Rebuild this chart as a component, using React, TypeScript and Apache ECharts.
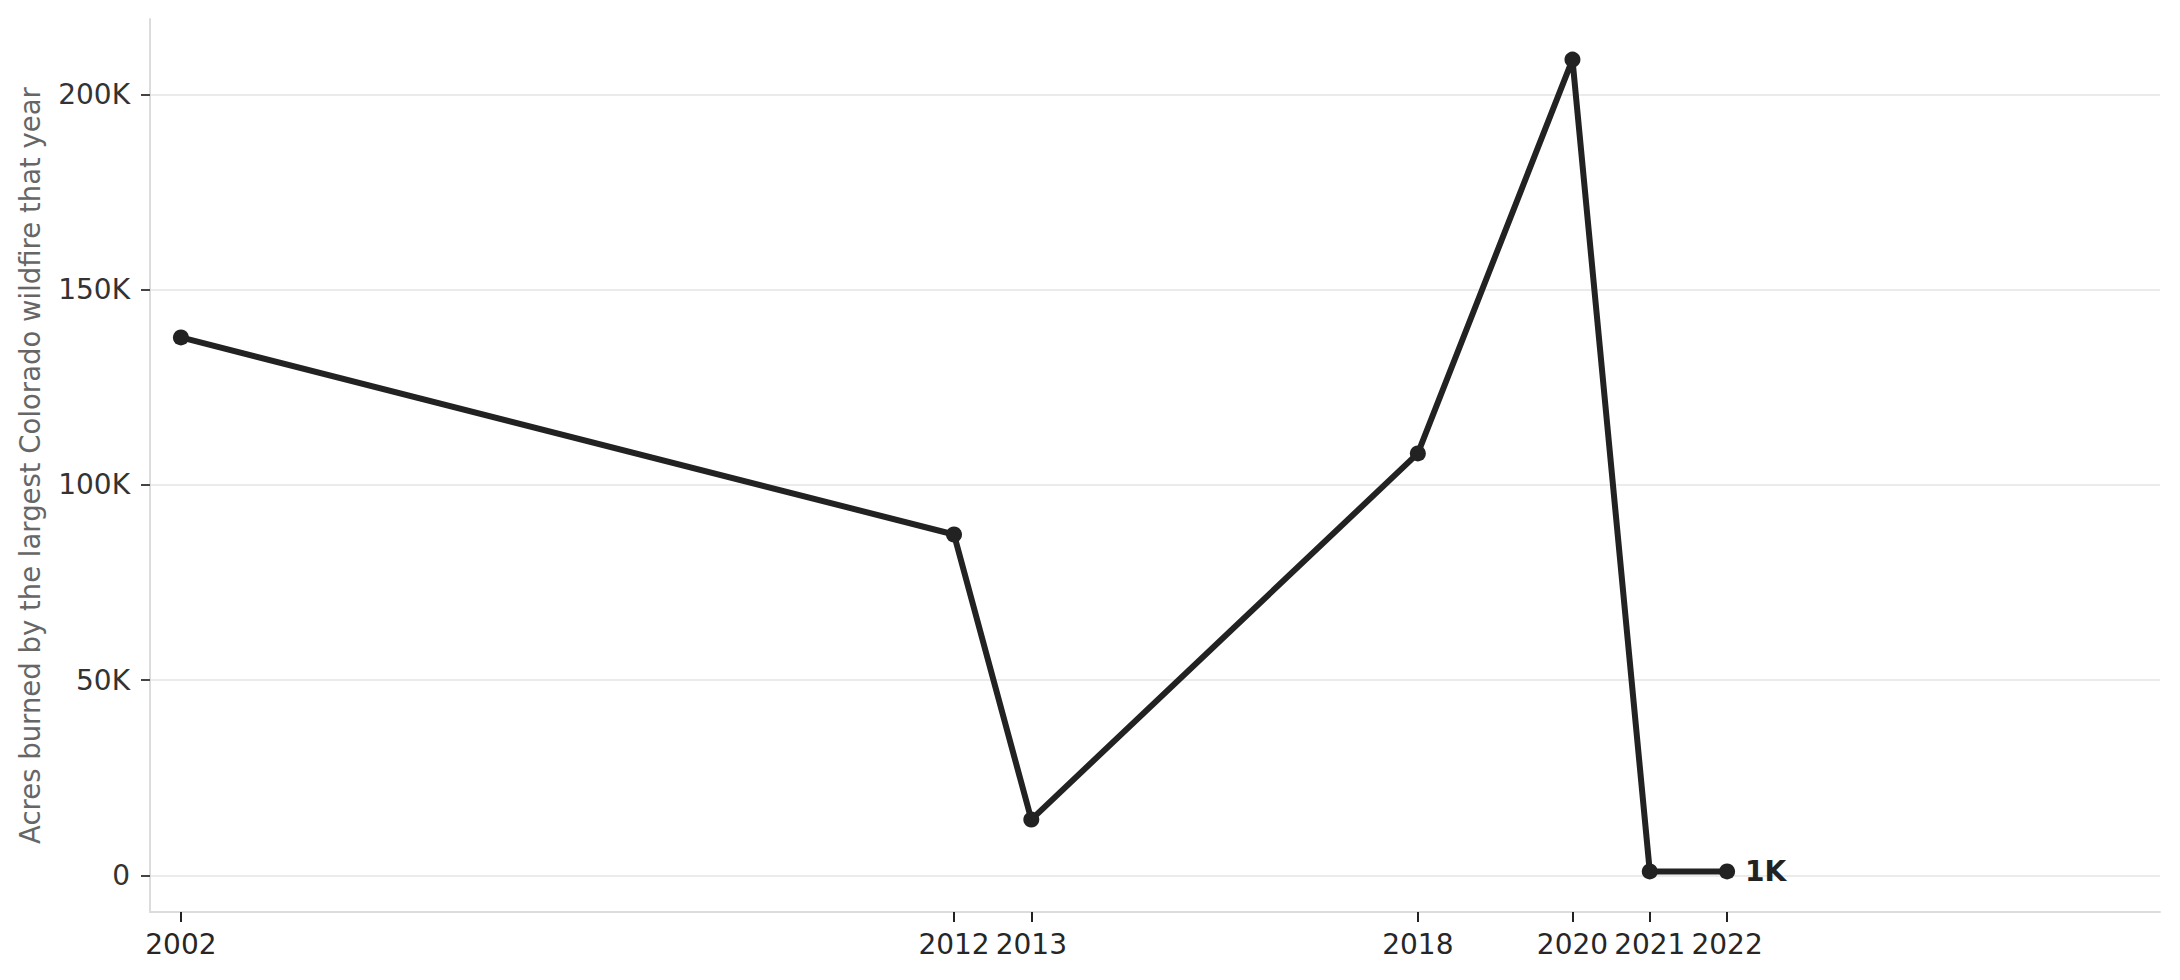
import { useEffect, useRef } from "react";
import * as echarts from "echarts";

const years = [2002, 2012, 2013, 2018, 2020, 2021, 2022];
const acres = [137760, 87284, 14280, 108045, 208913, 1000, 1000];
const yTicks = [0, 50000, 100000, 150000, 200000];
const lastLabel = "1K";
const yTitle = "Acres burned by the largest Colorado wildfire that year";

const FONT = "DejaVu Sans";

function formatAcres(v: number): string {
  if (v === 0) {
    return "0";
  }
  return `${Math.round(v / 1000)}K`;
}

export default function App() {
  const ref = useRef<HTMLDivElement | null>(null);

  useEffect(() => {
    const el = ref.current;
    if (!el) {
      return;
    }
    const chart = echarts.init(el, null, { renderer: "svg" });

    const points = years.map((yr, i) => {
      const item: any = { value: [yr, acres[i]] };
      if (i === years.length - 1) {
        item.label = {
          show: true,
          position: "right",
          distance: 10,
          formatter: lastLabel,
          fontFamily: FONT,
          fontWeight: "bold",
          fontSize: 28,
          color: "#222",
        };
      }
      return item;
    });

    chart.setOption({
      animation: false,
      backgroundColor: "#fff",
      grid: { left: 150, right: 20, top: 19, bottom: 68 },
      xAxis: {
        type: "value",
        min: 2001.6,
        max: 2027.6,
        axisLine: {
          show: true,
          onZero: false,
          lineStyle: { color: "#dcdcdc", width: 2 },
        },
        axisTick: {
          show: true,
          customValues: years,
          length: 10,
          lineStyle: { color: "#222", width: 2 },
        },
        axisLabel: {
          customValues: years,
          formatter: (v: number) => String(v),
          fontFamily: FONT,
          fontSize: 28,
          color: "#262626",
          margin: 18,
        },
        splitLine: { show: false },
      },
      yAxis: {
        type: "value",
        min: -9396,
        max: 219309,
        name: yTitle,
        nameLocation: "middle",
        nameGap: 106,
        nameTextStyle: { fontFamily: FONT, fontSize: 27.5, color: "#666" },
        axisLine: { show: true, lineStyle: { color: "#dcdcdc", width: 2 } },
        axisTick: {
          show: true,
          customValues: yTicks,
          length: 9,
          lineStyle: { color: "#444", width: 2 },
        },
        axisLabel: {
          customValues: yTicks,
          formatter: (v: number) => formatAcres(v),
          fontFamily: FONT,
          fontSize: 28,
          color: "#333",
          margin: 20,
        },
        splitLine: { show: true, lineStyle: { color: "#ebebeb", width: 2 } },
      },
      series: [
        {
          type: "line",
          data: points,
          symbol: "circle",
          symbolSize: 16,
          lineStyle: { color: "#222", width: 6 },
          itemStyle: { color: "#222" },
          z: 3,
        },
      ],
    });

    return () => {
      chart.dispose();
    };
  }, []);

  return (
    <div
      ref={ref}
      style={{ position: "fixed", left: 0, top: 0, width: 2180, height: 980 }}
    />
  );
}
